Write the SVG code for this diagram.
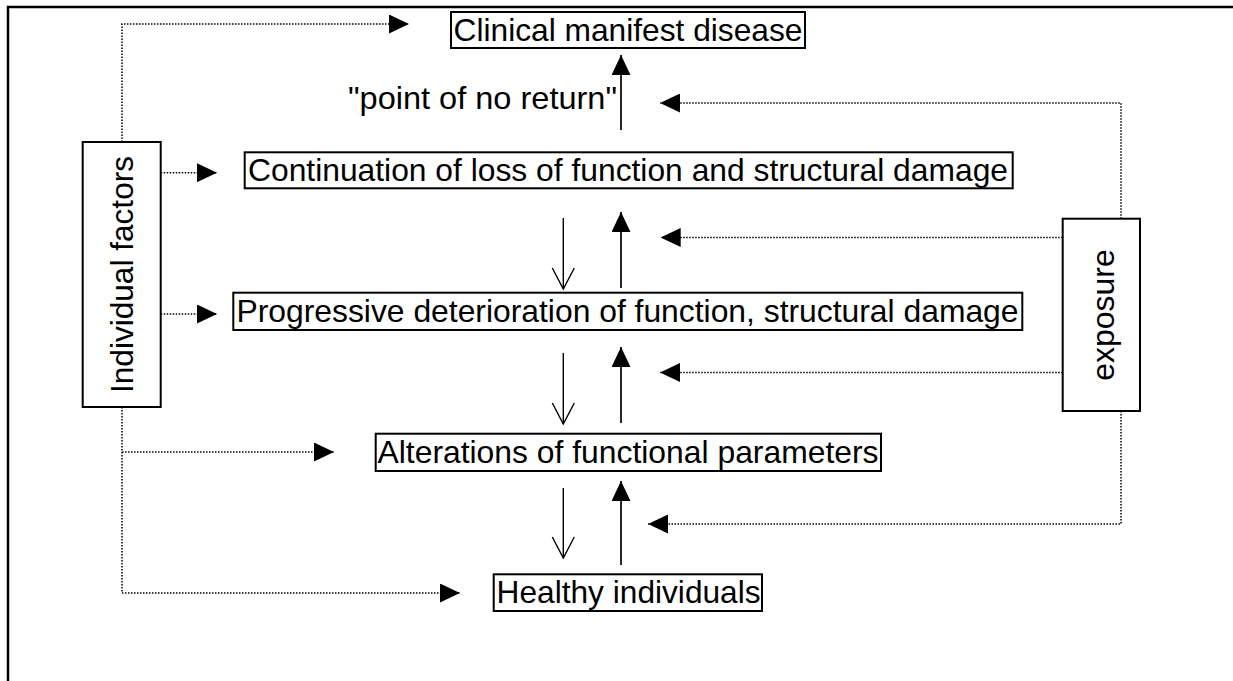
<svg xmlns="http://www.w3.org/2000/svg" width="1233" height="681" viewBox="0 0 1233 681">
<style>
.box{fill:#fff;stroke:#000;stroke-width:2}
.t{font-family:"Liberation Sans",Arial,sans-serif;font-size:32px;fill:#000}
.dot{fill:none;stroke:#000;stroke-width:1.5;stroke-dasharray:1.5 1.5}
.sol{fill:none;stroke:#000;stroke-width:1.7}
.thin{fill:none;stroke:#000;stroke-width:1.4}
</style>
<defs>
<marker id="tri" viewBox="0 0 20 19" refX="20" refY="9.5" markerWidth="20" markerHeight="19" markerUnits="userSpaceOnUse" orient="auto">
<path d="M0,0 L20,9.5 L0,19 z" fill="#000"/>
</marker>
<marker id="vee" viewBox="0 0 24 24" refX="22" refY="12" markerWidth="24" markerHeight="24" markerUnits="userSpaceOnUse" orient="auto">
<path d="M1,1 L22,12 L1,23" fill="none" stroke="#000" stroke-width="1.4"/>
</marker>
</defs>
<rect width="1233" height="681" fill="#fff"/>
<path d="M8,681 V7 H1233" fill="none" stroke="#000" stroke-width="2.5"/>
<g id="connectors">
<path class="dot" d="M122,142 V24 H409" marker-end="url(#tri)"/>
<path class="dot" d="M160.7,172.7 H217" marker-end="url(#tri)"/>
<path class="dot" d="M160.7,314 H217" marker-end="url(#tri)"/>
<path class="dot" d="M122,407 V593 H460" marker-end="url(#tri)"/>
<path class="dot" d="M122,452 H334" marker-end="url(#tri)"/>
<path class="dot" d="M1121,218.7 V103 H660" marker-end="url(#tri)"/>
<path class="dot" d="M1062.7,237.5 H660.7" marker-end="url(#tri)"/>
<path class="dot" d="M1062.7,372.5 H660" marker-end="url(#tri)"/>
<path class="dot" d="M1121,411 V524 H648" marker-end="url(#tri)"/>
<path class="sol" d="M621,130 V55" marker-end="url(#tri)"/>
<path class="sol" d="M621,288 V212" marker-end="url(#tri)"/>
<path class="sol" d="M621,423 V347" marker-end="url(#tri)"/>
<path class="sol" d="M621,565 V481" marker-end="url(#tri)"/>
<path class="thin" d="M563.3,218 V289" marker-end="url(#vee)"/>
<path class="thin" d="M563.3,353 V424" marker-end="url(#vee)"/>
<path class="thin" d="M563.3,488 V558" marker-end="url(#vee)"/>
</g>
<text class="t" x="348" y="109" textLength="269" lengthAdjust="spacingAndGlyphs">"point of no return"</text>
<g id="clinical">
<rect class="box" x="451" y="12" width="354" height="36"/>
<text class="t" x="628" y="40.5" text-anchor="middle" textLength="349" lengthAdjust="spacingAndGlyphs">Clinical manifest disease</text>
</g>
<g id="continuation">
<rect class="box" x="244.7" y="152.3" width="768" height="36"/>
<text class="t" x="628" y="181" text-anchor="middle" textLength="760" lengthAdjust="spacingAndGlyphs">Continuation of loss of function and structural damage</text>
</g>
<g id="progressive">
<rect class="box" x="233.3" y="292.7" width="789" height="37.3"/>
<text class="t" x="627.5" y="321.5" text-anchor="middle" textLength="782" lengthAdjust="spacingAndGlyphs">Progressive deterioration of function, structural damage</text>
</g>
<g id="alterations">
<rect class="box" x="375.7" y="433.7" width="505.3" height="37.3"/>
<text class="t" x="628" y="462.5" text-anchor="middle" textLength="501" lengthAdjust="spacingAndGlyphs">Alterations of functional parameters</text>
</g>
<g id="healthy">
<rect class="box" x="493.7" y="574.3" width="268.3" height="36.7"/>
<text class="t" x="628.6" y="603" text-anchor="middle" textLength="264" lengthAdjust="spacingAndGlyphs">Healthy individuals</text>
</g>
<g id="individual">
<rect class="box" x="82.7" y="142" width="78" height="265"/>
<text class="t" transform="translate(133,274.5) rotate(-90)" x="0" y="0" text-anchor="middle" textLength="237" lengthAdjust="spacingAndGlyphs">Individual factors</text>
</g>
<g id="exposure">
<rect class="box" x="1062.7" y="218.7" width="77.3" height="192.3"/>
<text class="t" transform="translate(1114,315) rotate(-90)" x="0" y="0" text-anchor="middle">exposure</text>
</g>
</svg>
